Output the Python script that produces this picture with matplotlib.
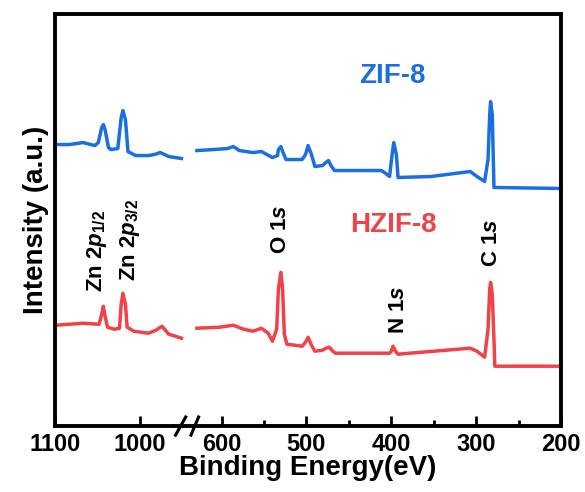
import numpy as np
import matplotlib.pyplot as plt

plt.rcParams['font.family'] = 'Liberation Sans'
plt.rcParams['font.weight'] = 'bold'
plt.rcParams['mathtext.fontset'] = 'custom'
plt.rcParams['mathtext.rm'] = 'Liberation Sans:bold'
plt.rcParams['mathtext.it'] = 'Liberation Sans:bold:italic'

# ZIF-8 (blue), high-energy and low-energy parts of the survey
zif_hi_ev = [1099, 1083, 1067, 1053, 1049, 1045, 1043, 1041, 1037, 1034, 1026,
             1022, 1020, 1017, 1014, 1005, 990, 983, 976, 966, 951]
zif_hi_int = [282, 282, 284, 281, 284, 299, 302, 297, 279, 277, 278,
              309, 316, 307, 275, 271, 271, 272, 274, 270, 268]
zif_lo_ev = [629, 609, 593, 586, 579, 563, 553, 540, 534, 533, 530, 528, 524,
             505, 501, 498, 494, 490, 481, 477, 474, 471, 467, 412, 408, 402,
             399, 397, 394, 392, 353, 307, 299, 290, 286, 284, 283, 281, 279, 200]
zif_lo_int = [276, 277, 278, 280, 276, 274, 275, 269, 271, 277, 280, 275, 267,
              267, 272, 281, 272, 260, 261, 264, 266, 261, 256, 256, 254, 250,
              272, 284, 272, 249, 250, 255, 250, 245, 267, 312, 325, 312, 239, 238]

# HZIF-8 (red)
hzif_hi_ev = [1099, 1067, 1048, 1045, 1043, 1041, 1038, 1030, 1024, 1022, 1020,
              1017, 1015, 1007, 990, 981, 974, 966, 958, 951]
hzif_hi_int = [101, 103, 102, 112, 120, 110, 99, 97, 98, 122, 133,
               122, 99, 95, 93, 96, 100, 92, 90, 88]
hzif_lo_ev = [629, 603, 586, 574, 563, 553, 545, 540, 535, 533, 530, 528, 526,
              523, 505, 501, 498, 494, 490, 481, 477, 473, 470, 466, 402, 400,
              398, 395, 392, 307, 299, 290, 286, 284, 283, 281, 279, 278, 200]
hzif_lo_int = [98, 99, 101, 97, 95, 98, 93, 85, 97, 137, 154, 137, 92,
               82, 80, 84, 89, 81, 75, 76, 78, 79, 76, 73, 73, 75,
               80, 75, 72, 78, 75, 69, 97, 137, 144, 132, 87, 60, 60]

xticks = [1100, 1000, 600, 500, 400, 300, 200]
xminor = [550, 450, 350, 250]

blue = '#1c6fe0'
red = '#f04247'

# broken axis: squeeze the empty 636-946 eV range
lo, hi, k = 636, 946, 0.02


def fwd(x):
    x = np.asarray(x, dtype=float)
    return np.where(x <= lo, x,
                    np.where(x >= hi, x - (hi - lo) * (1 - k), lo + (x - lo) * k))


def inv(u):
    u = np.asarray(u, dtype=float)
    ub = lo + (hi - lo) * k
    return np.where(u <= lo, u,
                    np.where(u >= ub, u + (hi - lo) * (1 - k), lo + (u - lo) / k))


fig = plt.figure(figsize=(5.85, 4.92), dpi=100)
ax = fig.add_axes([0.094, 0.134, 0.865, 0.838])
ax.set_xscale('function', functions=(fwd, inv))

lw = 2.5
ax.plot(zif_hi_ev, zif_hi_int, color=blue, lw=lw, solid_joinstyle='round')
ax.plot(zif_lo_ev, zif_lo_int, color=blue, lw=lw, solid_joinstyle='round')
ax.plot(hzif_hi_ev, hzif_hi_int, color=red, lw=lw, solid_joinstyle='round')
ax.plot(hzif_lo_ev, hzif_lo_int, color=red, lw=lw, solid_joinstyle='round')

ax.set_xlim(1100, 200)
ax.set_ylim(0, 413)
ax.set_xticks(xticks)
ax.set_xticks(xminor, minor=True)
ax.set_xticklabels([str(t) for t in xticks])
ax.set_yticks([])
ax.tick_params(axis='x', which='major', direction='in', length=7, width=2,
               labelsize=17, pad=5)
ax.tick_params(axis='x', which='minor', direction='in', length=4, width=2)
for s in ax.spines.values():
    s.set_linewidth(2.8)

ax.set_xlabel('Binding Energy(eV)', fontsize=20, fontweight='bold', labelpad=-1)
ax.set_ylabel('Intensity (a.u.)', fontsize=20, fontweight='bold', labelpad=4)

# break marks on the bottom axis
trans = ax.get_xaxis_transform()
for x1, x2 in ((958, 946), (637, 627)):
    ax.plot([x1, x2], [-0.022, 0.022], color='black', lw=2.2,
            transform=trans, clip_on=False)

ax.text(399, 351, 'ZIF-8', color=blue, fontsize=20, fontweight='bold',
        ha='center', va='center')
ax.text(398, 201, 'HZIF-8', color=red, fontsize=20, fontweight='bold',
        ha='center', va='center')

lab = dict(rotation=90, ha='center', va='bottom', fontsize=16, fontweight='bold')
ax.text(1051, 134, r'Zn 2$p_{\mathit{1/2}}$', **lab)
ax.text(1012, 145, r'Zn 2$p_{\mathit{3/2}}$', **lab)
ax.text(530, 172, r'O $\mathit{1s}$', **lab)
ax.text(392, 92, r'N $\mathit{1s}$', **lab)
ax.text(282, 159, r'C $\mathit{1s}$', **lab)

fig.savefig('out.png', dpi=100)
